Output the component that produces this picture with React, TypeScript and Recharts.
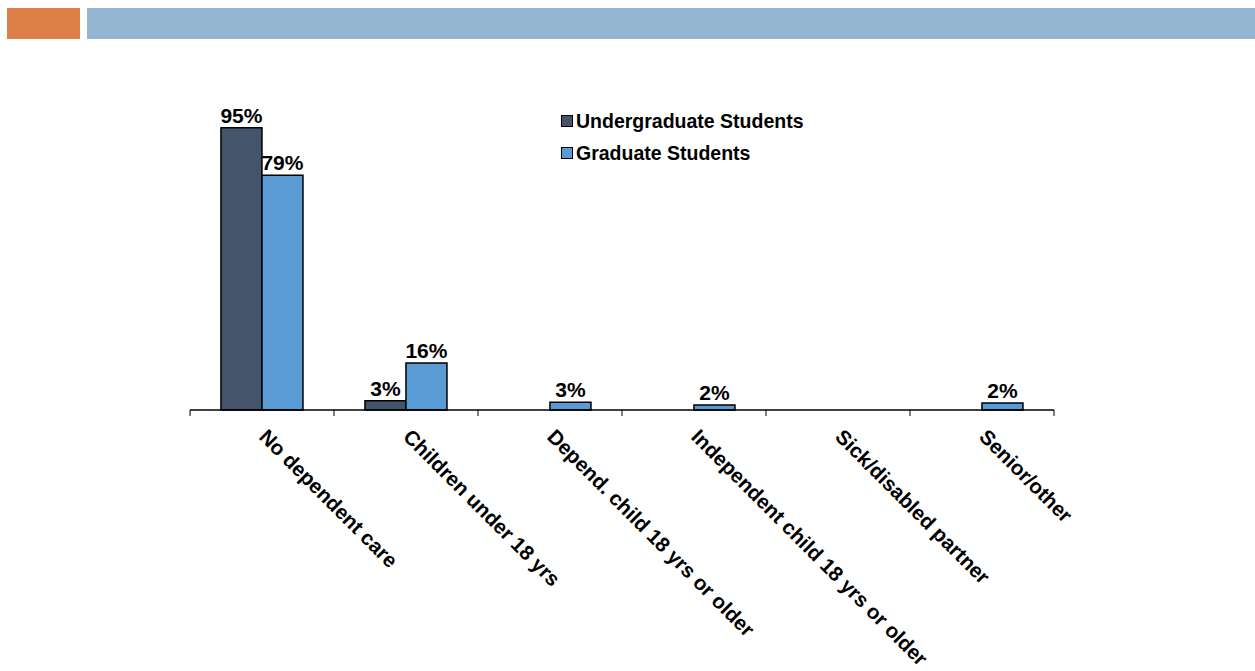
import React from "react";
import { BarChart, Bar, XAxis, YAxis, Legend, LabelList } from "recharts";

const categories = [
  "No dependent care",
  "Children under 18 yrs",
  "Depend. child 18 yrs or older",
  "Independent child 18 yrs or older",
  "Sick/disabled partner",
  "Senior/other",
];
const undergradValues: (number | null)[] = [95, 3.1, null, null, null, null];
const gradValues: (number | null)[] = [79, 15.8, 2.6, 1.7, null, 2.35];
const seriesNames = ["Undergraduate Students", "Graduate Students"];
const seriesColors = ["#44546A", "#5B9BD5"];

const data = categories.map((c, i) => ({
  name: c,
  undergrad: undergradValues[i],
  grad: gradValues[i],
}));

const W = 1255;
const H = 671;
const MARGIN = { top: 113, right: 201, left: 190, bottom: 0 };
const XAXIS_H = 261;
const FONT = "'Liberation Sans', Arial, Helvetica, sans-serif";

const plotWidth = W - MARGIN.left - MARGIN.right;

const CatTick = (props: any) => {
  const { x, y, payload, index } = props;
  const half = plotWidth / categories.length / 2;
  const axisY = y - 8;
  const sx = x - 4;
  const sy = y + 20;
  return (
    <g>
      <line x1={x - half} y1={axisY} x2={x - half} y2={axisY + 6} stroke="#000" strokeWidth={1} />
      {index === categories.length - 1 && (
        <line x1={x + half} y1={axisY} x2={x + half} y2={axisY + 6} stroke="#000" strokeWidth={1} />
      )}
      <text
        x={sx}
        y={sy}
        transform={`rotate(45 ${sx} ${sy})`}
        textAnchor="start"
        fontFamily={FONT}
        fontWeight="bold"
        fontSize={20.6}
        fill="#000"
      >
        {payload.value}
      </text>
    </g>
  );
};

const renderLegend = () => (
  <div style={{ fontFamily: FONT, fontWeight: "bold", fontSize: 19.5, color: "#000" }}>
    {seriesNames.map((n, i) => (
      <div key={n} style={{ display: "flex", alignItems: "center", height: 32 }}>
        <span
          style={{
            display: "inline-block",
            width: 10,
            height: 10,
            background: seriesColors[i],
            border: "1.5px solid #000",
            marginRight: 3,
          }}
        />
        <span>{n}</span>
      </div>
    ))}
  </div>
);

const fmt = (v: any) => (v == null ? "" : `${Math.round(Number(v))}%`);

export default function App() {
  return (
    <div style={{ position: "absolute", left: 0, top: 0, width: W, height: H, background: "#fff" }}>
      <div style={{ position: "absolute", left: 7, top: 8, width: 73, height: 31, background: "#DD8047" }} />
      <div style={{ position: "absolute", left: 87, top: 8, width: W - 87, height: 31, background: "#94B6D2" }} />
      <div style={{ position: "absolute", left: 0, top: 0 }}>
        <BarChart
          width={W}
          height={H}
          data={data}
          margin={MARGIN}
          barCategoryGap="21.5%"
          barGap={0}
        >
          <XAxis
            dataKey="name"
            height={XAXIS_H}
            interval={0}
            tickLine={false}
            axisLine={{ stroke: "#000", strokeWidth: 1.5 }}
            tick={<CatTick />}
          />
          <YAxis hide domain={[0, 100]} width={0} />
          <Legend
            layout="vertical"
            align="center"
            verticalAlign="middle"
            wrapperStyle={{ left: 561, top: 105, width: 320, height: 70 }}
            content={renderLegend}
          />
          <Bar dataKey="undergrad" name={seriesNames[0]} fill={seriesColors[0]} stroke="#000" strokeWidth={1.5} isAnimationActive={false}>
            <LabelList dataKey="undergrad" position="top" formatter={fmt} fill="#000" fontFamily={FONT} fontWeight="bold" fontSize={21} />
          </Bar>
          <Bar dataKey="grad" name={seriesNames[1]} fill={seriesColors[1]} stroke="#000" strokeWidth={1.5} isAnimationActive={false}>
            <LabelList dataKey="grad" position="top" formatter={fmt} fill="#000" fontFamily={FONT} fontWeight="bold" fontSize={21} />
          </Bar>
        </BarChart>
      </div>
    </div>
  );
}
